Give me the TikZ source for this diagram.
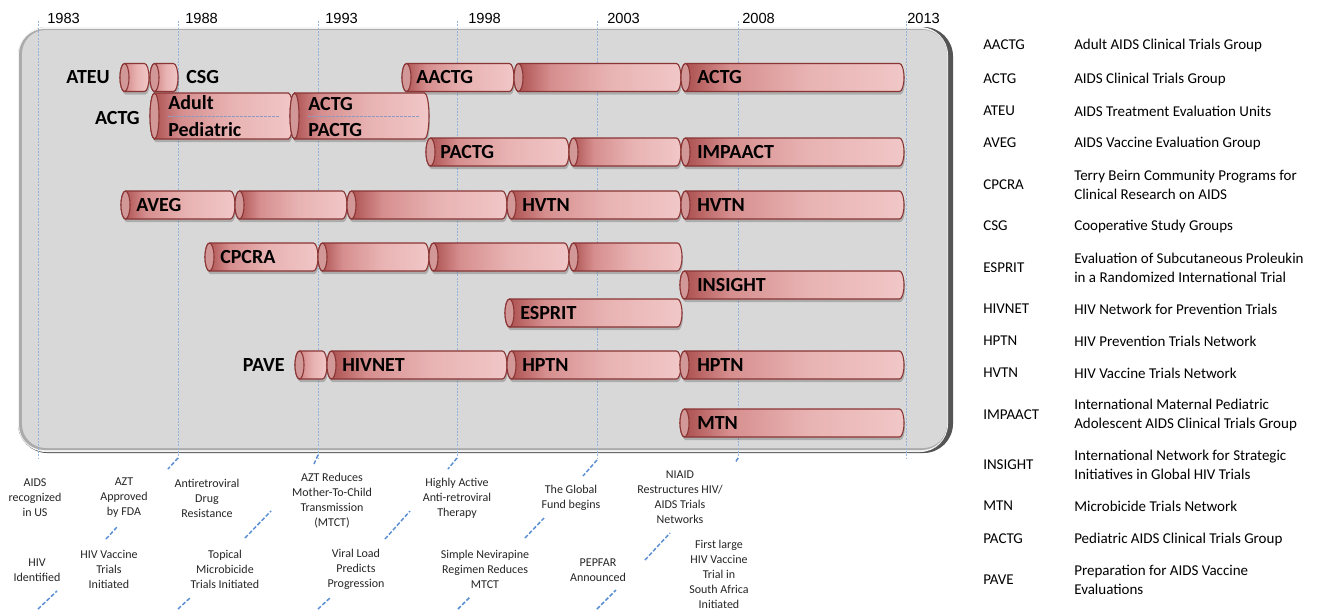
\documentclass[tikz,border=0pt]{standalone}
\usepackage{fontspec}
\setmainfont{Carlito}
\newfontfamily\yearfont{Liberation Sans}
\definecolor{cdark}{HTML}{A84A4A}
\definecolor{cmid}{HTML}{D68E8E}
\definecolor{clight}{HTML}{E8B2B2}
\definecolor{clighter}{HTML}{F1C7C7}
\definecolor{cedge}{HTML}{8A3434}
\definecolor{ccap}{HTML}{D29898}
\definecolor{boxfill}{HTML}{D8D8D8}
\definecolor{boxdark}{HTML}{555555}
\definecolor{boxlight}{HTML}{F4F4F4}
\definecolor{boxedge}{HTML}{ABABAB}
\definecolor{tickblue}{HTML}{93B3DA}
\definecolor{leaderblue}{HTML}{5B8ED2}
\definecolor{sepblue}{HTML}{8C9CC0}
\pgfdeclarehorizontalshading{cylshade}{100bp}{color(0bp)=(cdark); color(25bp)=(cdark); color(36bp)=(cmid); color(53bp)=(clight); color(75bp)=(clighter); color(100bp)=(clighter)}
\tikzset{
  cyllab/.style={font=\fontsize{15}{18}\selectfont\bfseries, anchor=base west, inner sep=0pt, text=black},
  extlab/.style={font=\fontsize{15}{18}\selectfont\bfseries, inner sep=0pt, text=black},
  yearlab/.style={font=\yearfont\fontsize{11}{13}\selectfont, anchor=base west, inner sep=0pt},
  legab/.style={font=\fontsize{11.25}{14}\selectfont, anchor=west, inner sep=0pt, align=left},
  legtx/.style={font=\fontsize{11.25}{14.25}\selectfont, anchor=west, inner sep=0pt, align=left},
  evt/.style={font=\fontsize{9}{11.25}\selectfont, align=center, inner sep=0pt, text=black!85},
  yeartick/.style={tickblue, line width=0.6pt, dash pattern=on 1.5pt off 1pt},
  leader/.style={leaderblue, line width=1.1pt, dash pattern=on 3pt off 1.5pt},
  sepline/.style={sepblue, line width=0.5pt, dash pattern=on 2pt off 1pt},
  cylborder/.style={draw=cedge, line width=0.8pt},
}
\newcommand\cylbar[4]{%
  \pgfmathsetmacro\xa{#1+4.5}\pgfmathsetmacro\xb{#2-4.5}%
  \fill[black, opacity=0.2] (\xa+1,#3-#4+3) -- (\xb+1,#3-#4+3) arc[start angle=-90,end angle=90,x radius=4.5,y radius=#4] -- (\xa+1,#3+#4+3) arc[start angle=90,end angle=270,x radius=4.5,y radius=#4] -- cycle;
  \path[shading=cylshade, cylborder] (\xa,#3-#4) -- (\xb,#3-#4) arc[start angle=-90,end angle=90,x radius=4.5,y radius=#4] -- (\xa,#3+#4) arc[start angle=90,end angle=270,x radius=4.5,y radius=#4] -- cycle;
  \draw[fill=ccap, cylborder] (\xa,#3) ellipse[x radius=4.5, y radius=#4];
}
\newcommand\leaderseg[3]{\coordinate (#1a) at (#2); \coordinate (#1b) at (#3); \draw[leader] (#1a) -- (#1b);}
\begin{document}
\begin{tikzpicture}[x=0.75pt, y=-0.75pt]
\useasboundingbox (0,0) rectangle (1321,611);
\fill[white] (0,0) rectangle (1321,611);
% panel
\fill[rounded corners=22, boxdark] (18,27) rectangle (953,453);
\fill[rounded corners=21, boxlight] (18,27) rectangle (948,452);
\fill[rounded corners=19, boxedge] (19,29) rectangle (947,450);
\fill[rounded corners=18, boxfill] (22,30) rectangle (947,448);
% year ticks
\foreach \nm/\x/\yl in {y83/38/1983, y88/178/1988, y93/318/1993, y98/457/1998, y03/597/2003, y08/738/2008, y13/906/2013} {
  \coordinate (\nm t) at (\x,21);
  \coordinate (\nm b) at (\x,459);
  \draw[yeartick] (\nm t) -- (\nm b);
}
\node[yearlab] (yl83) at (47,23) {1983};
\node[yearlab] (yl88) at (185,23) {1988};
\node[yearlab] (yl93) at (325,23) {1993};
\node[yearlab] (yl98) at (468,23) {1998};
\node[yearlab] (yl03) at (607,23) {2003};
\node[yearlab] (yl08) at (742,23) {2008};
\node[yearlab] (yl13) at (907,23) {2013};
% tick hooks
\leaderseg{h88}{178,458}{168,469}
\leaderseg{h93}{318,455}{314,464}
\leaderseg{h98}{457,458}{448,469}
\leaderseg{h03}{597,460}{583,476}
\leaderseg{h08}{738,458}{735,463}
% row 1
\cylbar{120}{149}{77.5}{14}
\cylbar{150}{178}{77.5}{14}
\node[extlab, anchor=base east] (ateu) at (110,83) {ATEU};
\node[extlab, anchor=base west] (csg) at (186,83) {CSG};
\cylbar{402}{514}{77.5}{14}
\node[cyllab] (aactg) at (416,83) {AACTG};
\cylbar{514}{681}{77.5}{14}
\cylbar{681}{904}{77.5}{14}
\node[cyllab] (actg1) at (697,83) {ACTG};
% row 2
\node[extlab, anchor=base east] (actg0) at (140,124) {ACTG};
\cylbar{150}{293}{116}{23}
\cylbar{290}{429}{116}{23}
\node[cyllab] (adult) at (168,109) {Adult};
\node[cyllab] (pedi) at (168,136) {Pediatric};
\node[cyllab] (actg2) at (308,110) {ACTG};
\node[cyllab] (pactg2) at (308,136) {PACTG};
\coordinate (s1a) at (168,116); \coordinate (s1b) at (280,116);
\coordinate (s2a) at (308,116); \coordinate (s2b) at (419,116);
\draw[sepline] (s1a) -- (s1b);
\draw[sepline] (s2a) -- (s2b);
% row 3
\cylbar{426}{569}{152}{14}
\node[cyllab] (pactg3) at (440,158) {PACTG};
\cylbar{569}{681}{152}{14}
\cylbar{681}{904}{152}{14}
\node[cyllab] (impaact) at (697,158) {IMPAACT};
% row 4
\cylbar{121}{235}{205}{14}
\node[cyllab] (aveg) at (136,211) {AVEG};
\cylbar{235}{347}{205}{14}
\cylbar{347}{507}{205}{14}
\cylbar{507}{681}{205}{14}
\node[cyllab] (hvtn1) at (522,211) {HVTN};
\cylbar{681}{904}{205}{14}
\node[cyllab] (hvtn2) at (697,211) {HVTN};
% row 5
\cylbar{205}{318}{257}{14}
\node[cyllab] (cpcra) at (220,263) {CPCRA};
\cylbar{318}{429}{257}{14}
\cylbar{429}{569}{257}{14}
\cylbar{569}{682}{257}{14}
% row 6
\cylbar{680}{904}{285}{14}
\node[cyllab] (insight) at (697,291) {INSIGHT};
% row 7
\cylbar{505}{682}{313}{14}
\node[cyllab] (esprit) at (520,319) {ESPRIT};
% row 8
\node[extlab, anchor=base east] (pave) at (285,371) {PAVE};
\cylbar{295}{327}{365}{14}
\cylbar{327}{507}{365}{14}
\node[cyllab] (hivnet) at (342,371) {HIVNET};
\cylbar{507}{681}{365}{14}
\node[cyllab] (hptn1) at (522,371) {HPTN};
\cylbar{680}{904}{365}{14}
\node[cyllab] (hptn2) at (697,371) {HPTN};
% row 9
\cylbar{680}{904}{423}{14}
\node[cyllab] (mtn) at (697,429) {MTN};
% events, top row
\node[evt] (e1) at (35,498) {AIDS\\recognized\\in US};
\node[evt] (e2) at (124,498) {AZT\\Approved\\by FDA};
\node[evt] (e3) at (207,498) {Antiretroviral\\Drug\\Resistance};
\node[evt] (e4) at (332,501) {AZT Reduces\\Mother-To-Child\\Transmission\\(MTCT)};
\node[evt] (e5) at (457,498) {Highly Active\\Anti-retroviral\\Therapy};
\node[evt] (e6) at (571,498) {The Global\\Fund begins};
\node[evt] (e7) at (680,497) {NIAID\\Restructures HIV/\\AIDS Trials\\Networks};
% events, bottom row
\node[evt] (e8) at (37,570) {HIV\\Identified};
\node[evt] (e9) at (109,569) {HIV Vaccine\\Trials\\Initiated};
\node[evt] (e10) at (225,569) {Topical\\Microbicide\\Trials Initiated};
\node[evt] (e11) at (356,569) {Viral Load\\Predicts\\Progression};
\node[evt] (e12) at (485,569) {Simple Nevirapine\\Regimen Reduces\\MTCT};
\node[evt] (e13) at (598,570) {PEPFAR\\Announced};
\node[evt] (e14) at (719,574) {First large\\HIV Vaccine\\Trial in\\South Africa\\Initiated};
% leader fragments
\leaderseg{l1}{106,539}{118,526}
\leaderseg{l2}{245,538}{271,511}
\leaderseg{l3}{385,539}{410,511}
\leaderseg{l4}{525,538}{544,518}
\leaderseg{l5}{645,560}{670,533}
\leaderseg{l6}{38,609}{57,591}
\leaderseg{l7}{178,609}{191,597}
\leaderseg{l8}{318,609}{331,597}
\leaderseg{l9}{458,609}{470,597}
\leaderseg{l10}{597,609}{616,590}
% legend
\foreach \nm/\y/\ab/\tx in {
  g1/45/AACTG/{Adult AIDS Clinical Trials Group},
  g2/79/ACTG/{AIDS Clinical Trials Group},
  g3/111/ATEU/{AIDS Treatment Evaluation Units},
  g4/143/AVEG/{AIDS Vaccine Evaluation Group},
  g5/184.5/CPCRA/{Terry Beirn Community Programs for\\Clinical Research on AIDS},
  g6/226/CSG/{Cooperative Study Groups},
  g7/267.5/ESPRIT/{Evaluation of Subcutaneous Proleukin\\in a Randomized International Trial},
  g8/309/HIVNET/{HIV Network for Prevention Trials},
  g9/341/HPTN/{HIV Prevention Trials Network},
  g10/373/HVTN/{HIV Vaccine Trials Network},
  g11/414.5/IMPAACT/{International Maternal Pediatric\\Adolescent AIDS Clinical Trials Group},
  g12/465/INSIGHT/{International Network for Strategic\\Initiatives in Global HIV Trials},
  g13/506/MTN/{Microbicide Trials Network},
  g14/539/PACTG/{Pediatric AIDS Clinical Trials Group},
  g15/580/PAVE/{Preparation for AIDS Vaccine\\Evaluations}} {
  \node[legab] (\nm a) at (983,\y) {\ab};
  \node[legtx] (\nm b) at (1074,\y) {\tx};
}
\end{tikzpicture}
\end{document}
